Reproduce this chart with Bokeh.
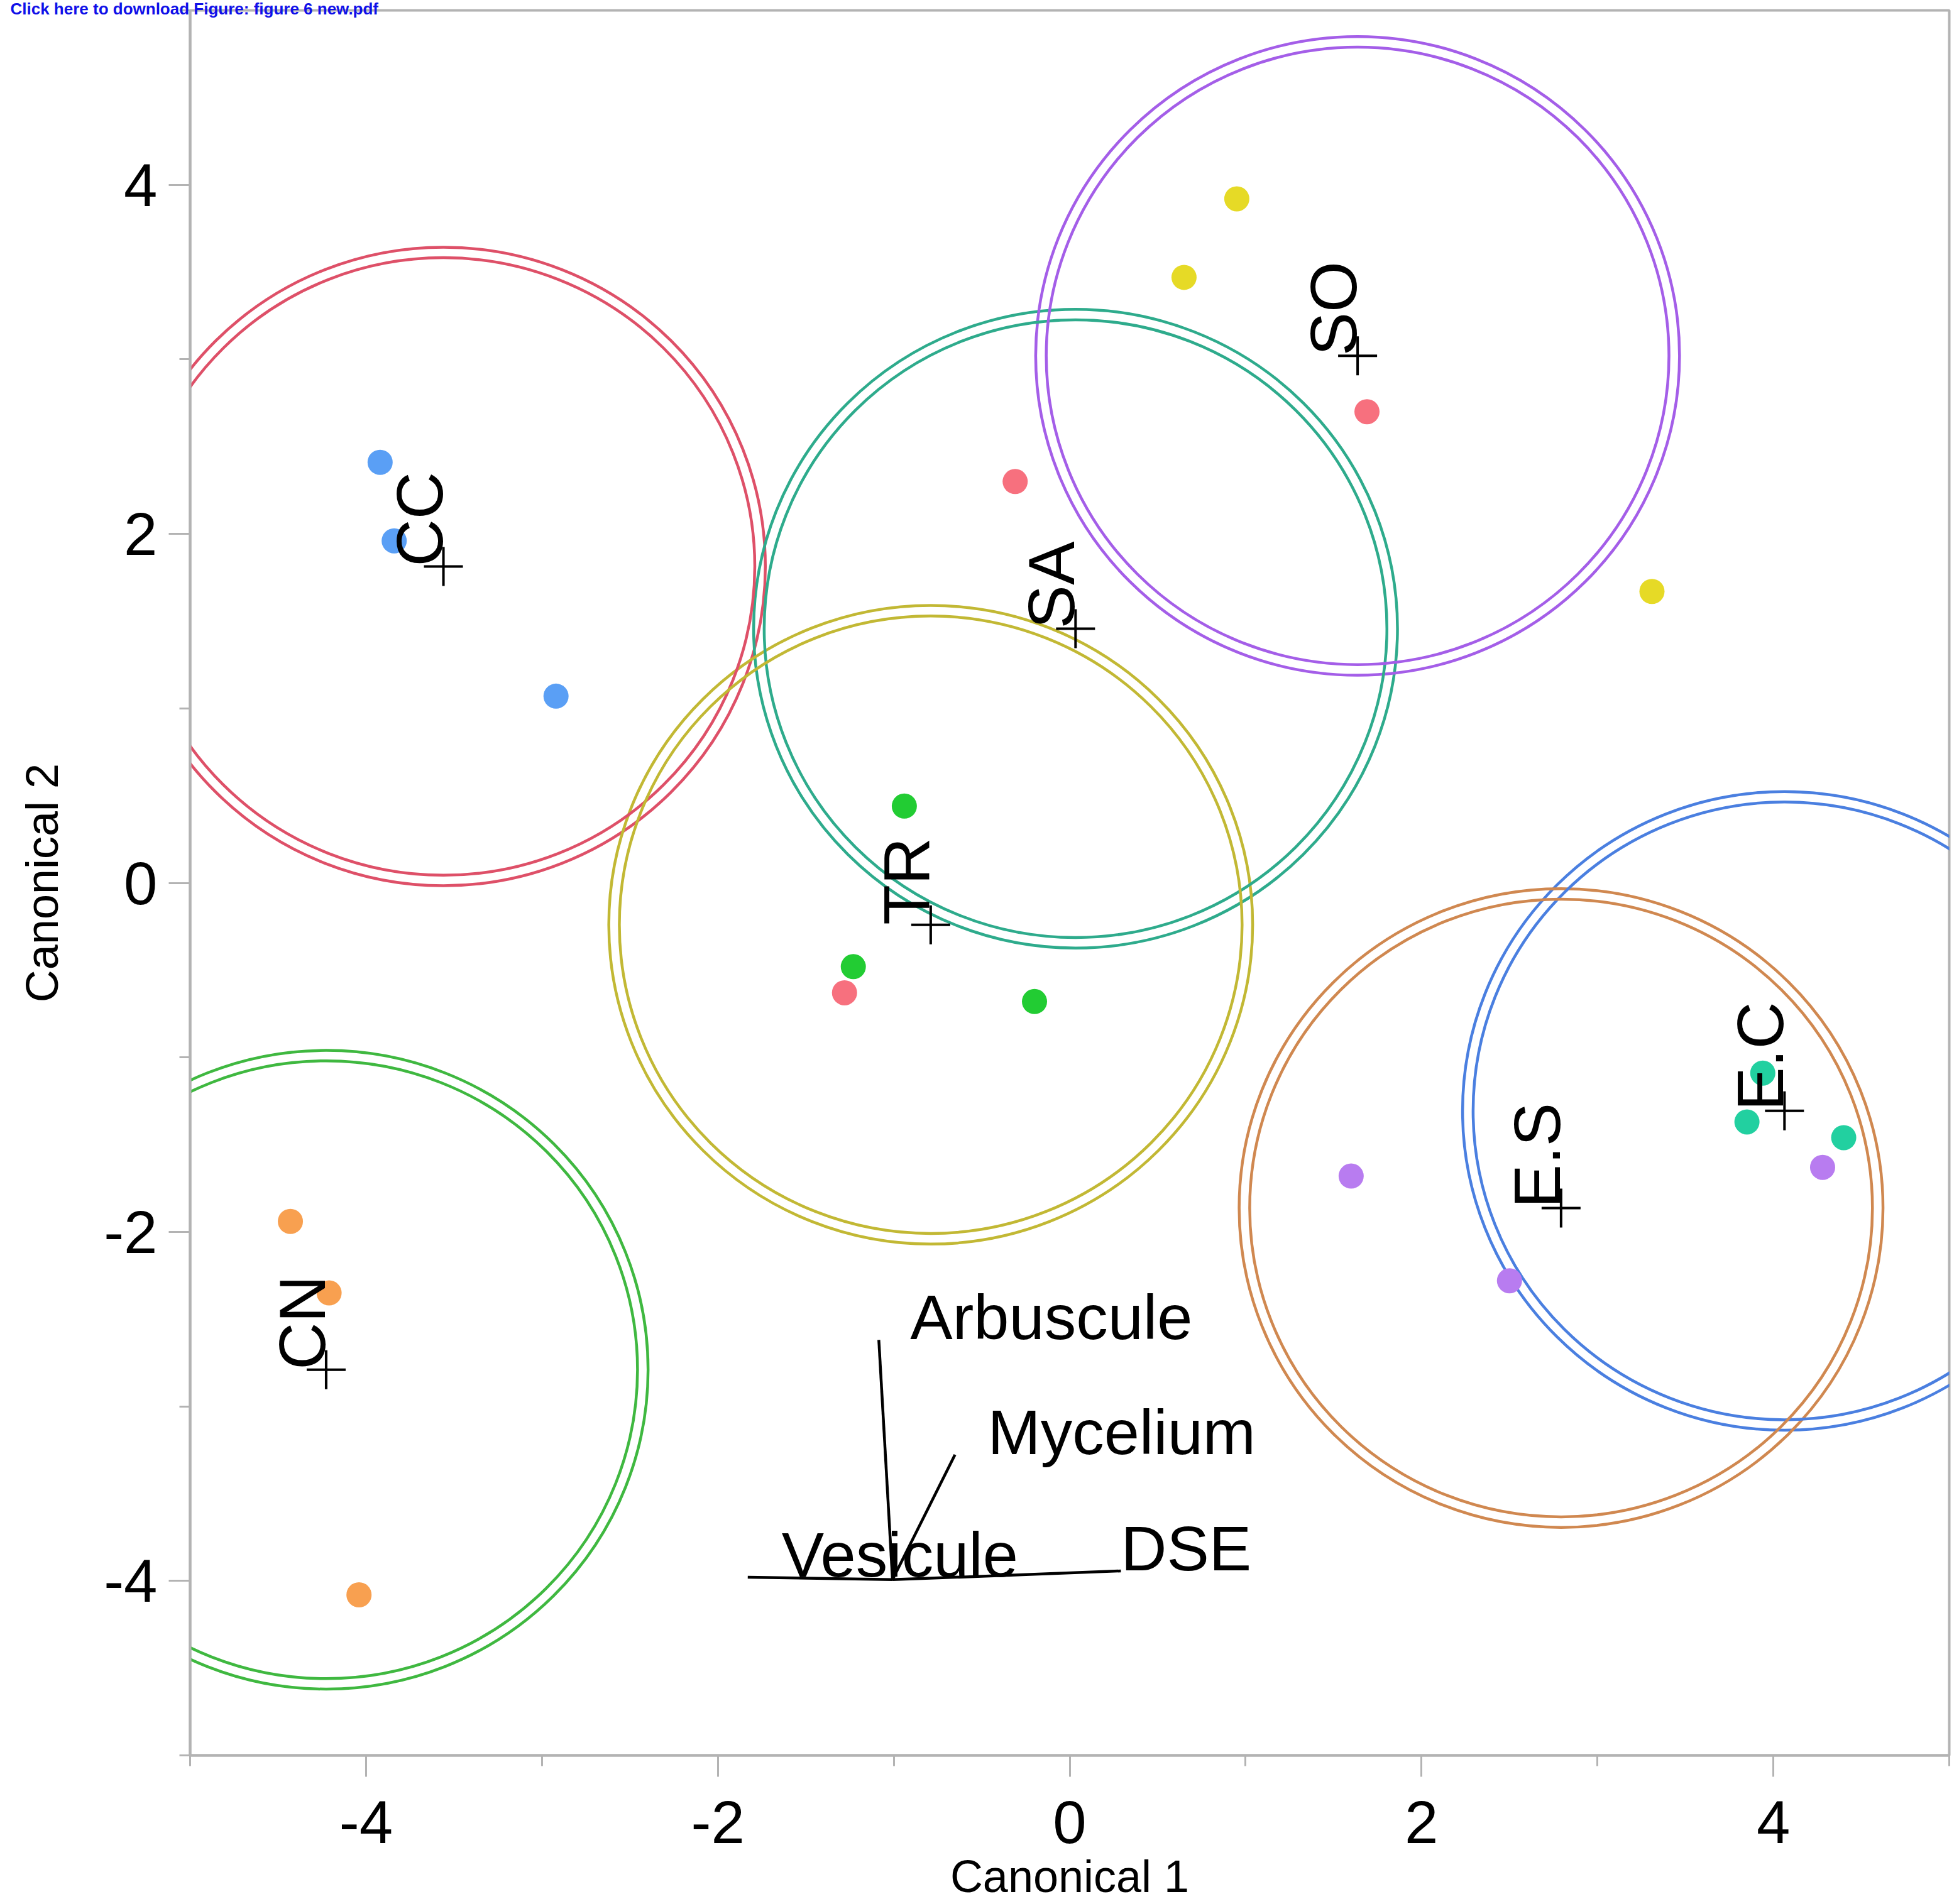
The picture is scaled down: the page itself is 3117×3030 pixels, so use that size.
import numpy as np
from bokeh.plotting import figure
from bokeh.models import ColumnDataSource, SingleIntervalTicker, Range1d, NumeralTickFormatter
from bokeh.embed import file_html
from bokeh.resources import INLINE
from bokeh.core.properties import value

# ---------------- data ----------------
groups = ["CC", "SA", "SO", "TR", "CN", "E.C", "E.S"]

# canonical scores of the observations, one list per group
cc_x = [-3.92, -3.84, -2.92]
cc_y = [2.41, 1.96, 1.07]
sa_x = [-0.31, 1.69, -1.28]
sa_y = [2.30, 2.70, -0.63]
so_x = [0.95, 0.65, 3.31]
so_y = [3.92, 3.47, 1.67]
tr_x = [-0.94, -1.23, -0.20]
tr_y = [0.44, -0.48, -0.68]
cn_x = [-4.43, -4.21, -4.04]
cn_y = [-1.94, -2.35, -4.08]
ec_x = [3.94, 3.85, 4.40]
ec_y = [-1.09, -1.37, -1.46]
es_x = [1.60, 2.50, 4.28]
es_y = [-1.68, -2.28, -1.63]

group_x = [cc_x, sa_x, so_x, tr_x, cn_x, ec_x, es_x]
group_y = [cc_y, sa_y, so_y, tr_y, cn_y, ec_y, es_y]

point_colors = ["#5a9ff5", "#f7707e", "#e6da26", "#22cc33", "#f8a050", "#22d0a0", "#b87cf0"]
ring_colors = ["#de5068", "#2eab8c", "#a45ee8", "#c2b834", "#3fb840", "#4a7fe0", "#d08850"]

ring_radius_outer = 1.83
ring_radius_inner = 1.77

# biplot rays
ray_names = ["Arbuscule", "Mycelium", "DSE", "Vesicule"]
ray_origin_x = -1.007
ray_origin_y = -3.993
ray_end_x = [-1.085, -0.652, 0.291, -1.830]
ray_end_y = [-2.619, -3.277, -3.943, -3.979]
ray_label_dx = [50, 52, 0, 54]

header_text = "Click here to download Figure: figure 6 new.pdf"

# ---------------- figure ----------------
p = figure(width=3117, height=3030, output_backend="svg", toolbar_location=None,
           x_range=Range1d(-5, 5), y_range=Range1d(-5, 5),
           min_border_left=302, min_border_right=16, min_border_top=16, min_border_bottom=237)
p.grid.visible = False
p.background_fill_color = "white"
p.border_fill_color = "white"
p.outline_line_color = "#b3b3b3"
p.outline_line_width = 4

# header text drawn as the title, overlapping the frame top
p.title.text = header_text
p.title.align = "left"
p.title.offset = -286
p.title.vertical_align = "bottom"
p.title.standoff = -24
p.title.text_font = "Liberation Sans"
p.title.text_font_size = "26px"
p.title.text_font_style = "bold"
p.title.text_color = "#1010e8"

AX = "#b3b3b3"
for ax in (p.xaxis[0], p.yaxis[0]):
    ax.ticker = SingleIntervalTicker(interval=2, num_minor_ticks=2)
    ax.formatter = NumeralTickFormatter(format="0")
    ax.axis_line_color = AX
    ax.axis_line_width = 4
    ax.major_tick_line_color = AX
    ax.major_tick_line_width = 3
    ax.minor_tick_line_color = AX
    ax.minor_tick_line_width = 3
    ax.major_tick_in = 0
    ax.major_tick_out = 34
    ax.minor_tick_in = 0
    ax.minor_tick_out = 17
    ax.major_label_text_font = "Liberation Sans"
    ax.major_label_text_font_size = "96px"
    ax.major_label_text_color = "black"
    ax.axis_label_text_font = "Liberation Sans"
    ax.axis_label_text_font_size = "72px"
    ax.axis_label_text_font_style = "normal"
    ax.axis_label_text_color = "black"

p.xaxis.axis_label = "Canonical 1"
p.yaxis.axis_label = "Canonical 2"
p.xaxis.major_label_standoff = 38
p.xaxis.axis_label_standoff = 10
p.yaxis.major_label_standoff = 18
p.yaxis.axis_label_standoff = 55

# centroids
cent_x = [float(np.mean(v)) for v in group_x]
cent_y = [float(np.mean(v)) for v in group_y]

ring_src = ColumnDataSource(dict(x=cent_x, y=cent_y, c=ring_colors))
for r in (ring_radius_outer, ring_radius_inner):
    p.ellipse(x="x", y="y", width=2 * r, height=2 * r, source=ring_src,
              fill_color=None, line_color="c", line_width=4.5)

# observations
for xs, ys, col in zip(group_x, group_y, point_colors):
    p.scatter(xs, ys, size=40, fill_color=col, line_color=None)

# rays
p.segment(x0=[ray_origin_x] * len(ray_end_x), y0=[ray_origin_y] * len(ray_end_y),
          x1=ray_end_x, y1=ray_end_y, line_color="black", line_width=4.5)
ray_src = ColumnDataSource(dict(x=ray_end_x, y=ray_end_y, t=ray_names, dx=ray_label_dx))
p.text(x="x", y="y", text="t", x_offset="dx", y_offset=-36, source=ray_src,
       text_align="left", text_baseline="middle",
       text_font=value("Liberation Sans"), text_font_size="101px", text_color="black")

# group means: cross + rotated label
p.scatter(cent_x, cent_y, marker="cross", size=62, line_color="black", line_width=4)
lab_src = ColumnDataSource(dict(x=cent_x, y=cent_y, t=groups))
p.text(x="x", y="y", text="t", source=lab_src, angle=np.pi / 2,
       x_offset=-38, text_align="left", text_baseline="middle",
       text_font=value("Liberation Sans"), text_font_size="104px", text_color="black")

open("out.html", "w").write(file_html(p, INLINE))
